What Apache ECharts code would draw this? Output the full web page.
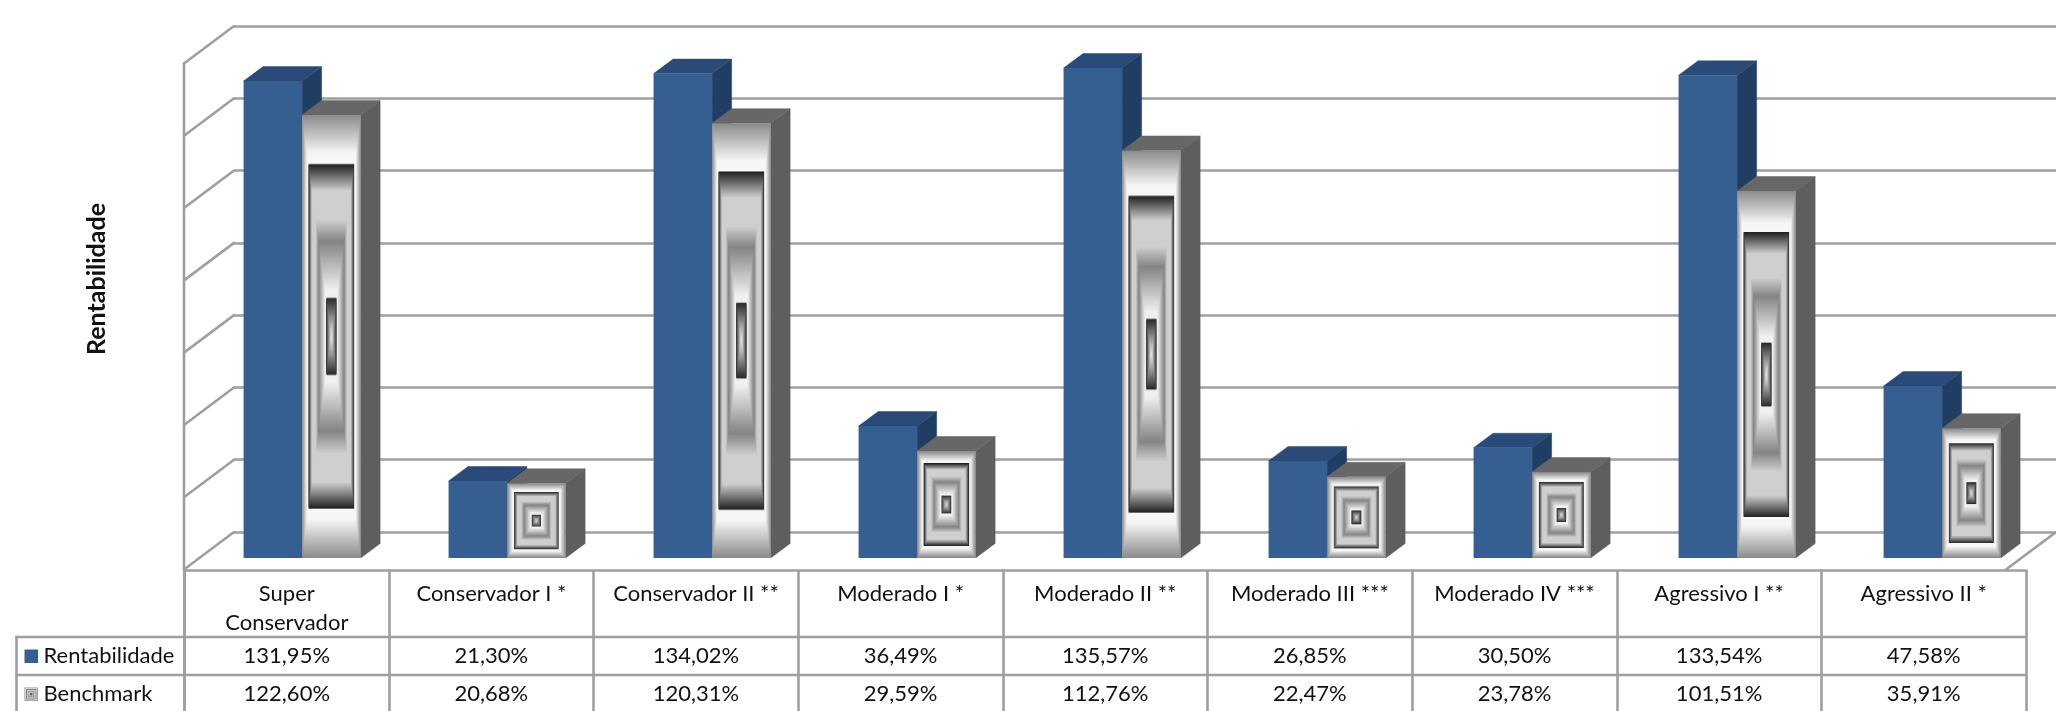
<!DOCTYPE html>
<html>
<head>
<meta charset="utf-8">
<style>html,body{margin:0;padding:0;background:#fff}#c{width:2056px;height:711px}</style>
<script src="https://cdn.jsdelivr.net/npm/echarts@6/dist/echarts.min.js"></script>
</head>
<body>
<div id="c"></div>
<script>
const categories = ['Super\nConservador','Conservador I *','Conservador II **','Moderado I *','Moderado II **','Moderado III ***','Moderado IV ***','Agressivo I **','Agressivo II *'];
const rentabilidade = [131.95,21.30,134.02,36.49,135.57,26.85,30.50,133.54,47.58];
const benchmark = [122.60,20.68,120.31,29.59,112.76,22.47,23.78,101.51,35.91];
const seriesNames = ['Rentabilidade','Benchmark'];
const yTicks = [0,20,40,60,80,100,120,140];
const yTitle = 'Rentabilidade';

// Styles
const FONT = 'Lato';
const LINE = '#9f9f9f';
const LINE_W = 2.6;
const WALL_DX = -50, WALL_DY = 37.5;   // side wall / floor depth
const BAR_DX = 19.5, BAR_DY = -14.5;   // depth of a bar
const BLUE = {front:'#365F91', top:'#2A4B77', side:'#203D63'};
const GREY = {top:'#676767', side:'#5E5E5E'};
const ROW_LINES = [637,675];
const ROW_CENTERS = [655.5,693.5];
const LEFT_CELL = 16.5;
// path gradient stops: [distance from edge to centre, grey level]
const STOPS = [[0,140],[.17,245],[.218,248],[.222,34],[.34,207],[.47,207],[.57,132],[.79,240],[.822,240],[.826,42],[.92,150],[1,235]];

function greyAt(t){
  for(let i=1;i<STOPS.length;i++){
    if(t<=STOPS[i][0]){
      const a=STOPS[i-1],b=STOPS[i],f=(t-a[0])/(b[0]-a[0]);
      const g=Math.round(a[1]+(b[1]-a[1])*f);
      return 'rgb('+g+','+g+','+g+')';
    }
  }
  return 'rgb(235,235,235)';
}
function concentric(x,y,w,h){
  const n=Math.max(12,Math.ceil(Math.max(w,h)/2));
  const out=[];
  for(let i=0;i<n;i++){
    const t=i/n, ix=t*w/2, iy=t*h/2;
    out.push({type:'rect',silent:true,shape:{x:x+ix,y:y+iy,width:w-2*ix,height:h-2*iy},style:{fill:greyAt(t)}});
  }
  return out;
}
function poly(points,fill){
  return {type:'polygon',silent:true,shape:{points:points},style:{fill:fill,stroke:fill,lineWidth:.5}};
}
function line(x1,y1,x2,y2){
  return {type:'line',silent:true,shape:{x1,y1,x2,y2},style:{stroke:LINE,lineWidth:LINE_W,lineCap:'round'}};
}
function barRender(kind){
  return function(params,api){
    const top=api.coord([api.value(0),api.value(1)]);
    const base=api.coord([api.value(0),0]);
    const w=api.size([1,0])[0]*0.2855;
    const x0=kind===0?top[0]-w:top[0];
    const x1=x0+w, y0=top[1], y1=base[1];
    const c=kind===0?BLUE:GREY;
    const kids=[
      poly([[x1,y0],[x1+BAR_DX,y0+BAR_DY],[x1+BAR_DX,y1+BAR_DY],[x1,y1]],c.side),
      poly([[x0,y0],[x0+BAR_DX,y0+BAR_DY],[x1+BAR_DX,y0+BAR_DY],[x1,y0]],c.top)
    ];
    if(kind===0) kids.push({type:'rect',silent:true,shape:{x:x0,y:y0,width:w,height:y1-y0},style:{fill:c.front}});
    else kids.push.apply(kids,concentric(x0,y0,w,y1-y0));
    return {type:'group',children:kids};
  };
}
function fmt(v){return v.toFixed(2).replace('.',',')+'%';}

const cellData=[];
[rentabilidade,benchmark].forEach((arr,r)=>arr.forEach((v,i)=>cellData.push([i,r,v])));

const option={
  animation:false,
  backgroundColor:'#fff',
  textStyle:{fontFamily:FONT},
  grid:[
    {left:234,top:26,width:1841,height:506},
    {left:199.6,top:52,width:1845,height:506},
    {left:184.5,top:570,width:1841.5,height:141}
  ],
  xAxis:[
    {gridIndex:0,type:'value',min:0,max:9,show:false},
    {gridIndex:1,type:'category',data:categories,show:false},
    {gridIndex:2,type:'category',data:categories,position:'top',
      axisTick:{show:false},
      axisLine:{show:true,onZero:false,lineStyle:{color:LINE,width:LINE_W}},
      splitLine:{show:true,interval:0,lineStyle:{color:LINE,width:LINE_W}},
      axisLabel:{show:true,inside:true,interval:0,margin:9,color:'#111',fontFamily:FONT,fontSize:22,lineHeight:29,verticalAlign:'top',hideOverlap:false}}
  ],
  yAxis:[
    {gridIndex:0,type:'value',min:0,max:140,interval:20,
      name:yTitle,nameLocation:'middle',nameGap:115,nameRotate:90,
      nameTextStyle:{fontFamily:FONT,fontWeight:'bold',fontSize:25,color:'#111',padding:[0,0,10,0]},
      axisLine:{show:false},axisTick:{show:false},axisLabel:{show:false},
      splitLine:{show:true,lineStyle:{color:LINE,width:LINE_W}}},
    {gridIndex:1,type:'value',min:0,max:140,interval:20,show:false},
    {gridIndex:2,type:'value',min:0,max:1,show:false}
  ],
  series:[
    {type:'custom',name:'wall',xAxisIndex:0,yAxisIndex:0,z:1,silent:true,
      data:yTicks.map(v=>[0,v]),
      renderItem(params,api){
        const p=api.coord([api.value(0),api.value(1)]);
        return line(p[0],p[1],p[0]+WALL_DX,p[1]+WALL_DY);
      }},
    {type:'custom',name:'wallEdges',xAxisIndex:0,yAxisIndex:0,z:1,silent:true,clip:false,
      data:[[0]],
      renderItem(params,api){
        const tl=api.coord([0,yTicks[yTicks.length-1]]), bl=api.coord([0,0]), br=api.coord([9,0]);
        return {type:'group',children:[
          line(tl[0]+WALL_DX,tl[1]+WALL_DY,bl[0]+WALL_DX,bl[1]+WALL_DY),
          line(br[0],br[1],br[0]+WALL_DX,br[1]+WALL_DY)
        ]};
      }},
    {type:'custom',name:seriesNames[0],xAxisIndex:1,yAxisIndex:1,z:3,silent:true,
      data:rentabilidade.map((v,i)=>[i,v]),renderItem:barRender(0)},
    {type:'custom',name:seriesNames[1],xAxisIndex:1,yAxisIndex:1,z:4,silent:true,
      data:benchmark.map((v,i)=>[i,v]),renderItem:barRender(1)},
    {type:'custom',name:'rows',xAxisIndex:2,yAxisIndex:2,z:2,silent:true,clip:false,
      data:[[0]],
      renderItem(params,api){
        const cs=params.coordSys;
        const kids=[];
        ROW_LINES.forEach(y=>kids.push(line(LEFT_CELL,y,cs.x+cs.width,y)));
        kids.push(line(LEFT_CELL,ROW_LINES[0],LEFT_CELL,cs.y+cs.height));
        kids.push(line(cs.x,cs.y,cs.x,cs.y+cs.height));
        seriesNames.forEach((n,r)=>{
          const yc=ROW_CENTERS[r];
          if(r===0) kids.push({type:'rect',silent:true,shape:{x:24.5,y:yc-6,width:13.5,height:13.5},style:{fill:BLUE.front}});
          else kids.push.apply(kids,concentric(24.5,yc-6,13.5,13.5));
          kids.push({type:'text',silent:true,style:{x:43.5,y:yc,text:n,fill:'#111',font:'22px '+FONT,verticalAlign:'middle',align:'left'}});
        });
        return {type:'group',children:kids};
      }},
    {type:'custom',name:'cells',xAxisIndex:2,yAxisIndex:2,z:2,silent:true,clip:false,
      data:cellData,
      renderItem(params,api){
        const p=api.coord([api.value(0),0]);
        const r=api.value(1), v=api.value(2);
        return {type:'text',silent:true,style:{x:p[0],y:ROW_CENTERS[r],text:fmt(v),fill:'#111',font:'22px '+FONT,align:'center',verticalAlign:'middle'}};
      }}
  ]
};
const chart=echarts.init(document.getElementById('c'),null,{renderer:'canvas'});
chart.setOption(option);
</script>
</body>
</html>
